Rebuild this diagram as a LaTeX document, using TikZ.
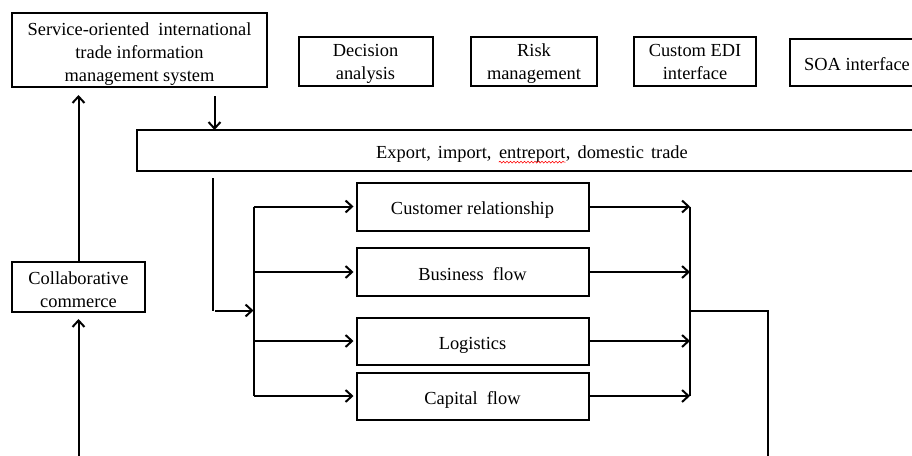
\documentclass[tikz,border=0pt]{standalone}
\usepackage{fontspec}
\setmainfont{Liberation Serif}
\usetikzlibrary{arrows.meta,decorations.pathmorphing}
\newcommand\wavyword[1]{\tikz[baseline=(w.base)]{\node[draw=none,inner sep=0pt,minimum width=0pt,minimum height=0pt] (w) {#1};
  \draw[red,line width=0.6pt,decorate,decoration={snake,amplitude=0.9pt,segment length=3.5pt}] ([yshift=-3.5pt]w.base west) -- ([yshift=-3.5pt]w.base east);}}
\newcommand\topstrut{\rule{0pt}{20pt}}
\newcommand\topstrutb{\rule{0pt}{16pt}}
\newcommand\botstrut{\rule[-3pt]{0pt}{0pt}}
\begin{document}
\begin{tikzpicture}[x=1pt,y=-1pt,
  box/.style={draw,line width=2pt,inner sep=0pt,align=center,
    font=\fontsize{18.4}{23}\selectfont},
  sbox/.style={box,execute at begin node={\rule{0pt}{21pt}},
    execute at end node={\rule[-4.5pt]{0pt}{0pt}}},
  arr/.style={line width=2pt,-{Straight Barb[length=6.5pt,width=12pt,line width=2pt]}},
  ln/.style={line width=2pt}]
\path[use as bounding box] (0,0) rectangle (912,455);
\clip (0,0) rectangle (912,455);
% top row
\node[box,minimum width=255pt,minimum height=74pt] (svc) at (139.5,50)
  {\topstrut Service-oriented \ international\\trade information\\management system\botstrut};
\node[box,minimum width=134pt,minimum height=49pt] (dec) at (365.5,61.5) {\topstrutb Decision\\analysis\botstrut};
\node[box,minimum width=126pt,minimum height=49pt] (risk) at (534,61.5) {\topstrutb Risk\\management\botstrut};
\node[box,minimum width=122pt,minimum height=49pt] (edi) at (695,61.5) {\topstrutb Custom EDI\\interface\botstrut};
\node[sbox,minimum width=134pt,minimum height=47pt] (soa) at (857,62) {SOA interface};
% trade bar
\node[sbox,minimum width=790pt,minimum height=41pt] (exp) at (532,150.5)
  {\spaceskip=7pt Export, import, \wavyword{entreport}, domestic trade};
% left
\node[box,minimum width=133pt,minimum height=50pt] (col) at (78.5,287) {\topstrut Collaborative\\commerce\botstrut};
% inner boxes
\node[sbox,minimum width=232pt,minimum height=48pt] (cust) at (472.5,206.5) {Customer relationship};
\node[sbox,minimum width=232pt,minimum height=48pt] (bus) at (472.5,272) {Business \ flow};
\node[sbox,minimum width=232pt,minimum height=47pt] (log) at (472.5,341) {Logistics};
\node[sbox,minimum width=232pt,minimum height=47pt] (cap) at (472.5,396) {Capital \ flow};
% coordinates
\coordinate (a1) at (214.5,96);
\coordinate (in1) at (212.5,178);
\coordinate (in2) at (212.5,310.5);
\coordinate (in3) at (215,310.5);
\coordinate (lb) at (253.5,310.5);
\coordinate (rb) at (690,310.5);
\coordinate (o1) at (767.5,310.5);
\coordinate (o2) at (767.5,460);
\coordinate (cb) at (78.5,460);
% connectors
\draw[arr] (a1) -- ([yshift=-1pt]a1 |- exp.north);
\draw[ln] (in1) -- (in2);
\draw[arr] (in3) -- (lb);
\draw[ln] (lb |- cust.west) -- (lb |- cap.west);
\foreach \n in {cust,bus,log,cap}{
  \draw[arr] (lb |- \n.west) -- ([xshift=-2pt]\n.west);
  \draw[arr] (\n.east) -- (rb |- \n.east);
}
\draw[ln] (rb |- cust.east) -- (rb |- cap.east);
\draw[ln] (rb) -- (o1) -- (o2);
\draw[arr,shorten >=7pt] (col.north) -- (col.north |- svc.south);
\draw[arr,shorten >=6pt] (cb) -- (col.south);
\end{tikzpicture}
\end{document}
